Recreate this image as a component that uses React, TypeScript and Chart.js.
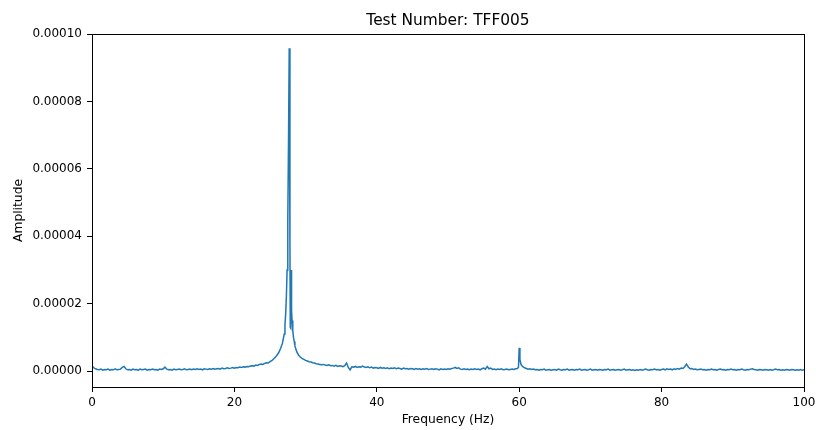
import React, { useEffect, useRef } from "react";
import { Chart, registerables } from "chart.js";

Chart.register(...registerables);

const chartTitle = "Test Number: TFF005";
const xAxisLabel = "Frequency (Hz)";
const yAxisLabel = "Amplitude";
const xTickValues = [0, 20, 40, 60, 80, 100];
const yTickValues = [0, 0.00002, 0.00004, 0.00006, 0.00008, 0.0001];

// Frequency bins (Hz)
const frequencyHz = [
  0, 0.25, 0.5, 0.75, 1, 1.25, 1.5, 1.75,
  2, 2.25, 2.5, 2.75, 3, 3.25, 3.5, 3.75,
  4, 4.25, 4.5, 4.75, 5, 5.25, 5.5, 5.75,
  6, 6.25, 6.5, 6.75, 7, 7.25, 7.5, 7.75,
  8, 8.25, 8.5, 8.75, 9, 9.25, 9.5, 9.75,
  10, 10.25, 10.5, 10.75, 11, 11.25, 11.5, 11.75,
  12, 12.25, 12.5, 12.75, 13, 13.25, 13.5, 13.75,
  14, 14.25, 14.5, 14.75, 15, 15.25, 15.5, 15.75,
  16, 16.25, 16.5, 16.75, 17, 17.25, 17.5, 17.75,
  18, 18.25, 18.5, 18.75, 19, 19.25, 19.5, 19.75,
  20, 20.25, 20.5, 20.75, 21, 21.25, 21.5, 21.75,
  22, 22.25, 22.5, 22.75, 23, 23.25, 23.5, 23.75,
  24, 24.25, 24.5, 24.75,
  25, 25.25, 25.5, 25.75, 26, 26.25, 26.5, 26.75,
  27, 27.1, 27.2, 27.3, 27.4, 27.5, 27.6, 27.7,
  27.8, 27.85, 27.9, 27.95, 28, 28.05, 28.1, 28.2,
  28.3, 28.4, 28.5, 28.75, 29, 29.25, 29.5, 29.75,
  30, 30.25, 30.5, 30.75, 31, 31.25, 31.5, 31.75,
  32,
  32.25, 32.5, 32.75, 33, 33.25, 33.5, 33.75, 34,
  34.25, 34.5, 34.75, 35, 35.25, 35.5, 35.75, 36,
  36.25, 36.5, 36.75, 37, 37.25, 37.5, 37.75, 38,
  38.25, 38.5, 38.75, 39, 39.25, 39.5, 39.75, 40,
  40.25, 40.5, 40.75, 41, 41.25, 41.5, 41.75, 42,
  42.25, 42.5, 42.75, 43, 43.25, 43.5, 43.75, 44,
  44.25, 44.5, 44.75, 45, 45.25, 45.5, 45.75, 46,
  46.25, 46.5, 46.75, 47, 47.25, 47.5, 47.75, 48,
  48.25, 48.5, 48.75, 49, 49.25, 49.5, 49.75, 50,
  50.25, 50.5, 50.75, 51, 51.25, 51.5, 51.75, 52,
  52.25, 52.5, 52.75, 53, 53.25, 53.5, 53.75, 54,
  54.25, 54.5, 54.75, 55, 55.25, 55.5, 55.75, 56,
  56.25, 56.5, 56.75, 57, 57.25, 57.5, 57.75, 58,
  58.25, 58.5, 58.75, 59, 59.25, 59.5, 59.75,
  59.9, 60, 60.1, 60.2, 60.3, 60.5, 60.75, 61,
  61.25, 61.5, 61.75, 62, 62.25, 62.5, 62.75, 63,
  63.25, 63.5, 63.75, 64, 64.25, 64.5, 64.75, 65,
  65.25, 65.5, 65.75, 66, 66.25, 66.5, 66.75, 67,
  67.25, 67.5, 67.75, 68, 68.25, 68.5, 68.75, 69,
  69.25, 69.5, 69.75, 70, 70.25, 70.5, 70.75, 71,
  71.25, 71.5, 71.75, 72, 72.25, 72.5, 72.75, 73,
  73.25, 73.5, 73.75, 74, 74.25, 74.5, 74.75, 75,
  75.25, 75.5, 75.75, 76, 76.25, 76.5, 76.75, 77,
  77.25, 77.5, 77.75, 78, 78.25, 78.5, 78.75, 79,
  79.25, 79.5, 79.75, 80, 80.25, 80.5, 80.75, 81,
  81.25, 81.5, 81.75, 82, 82.25, 82.5, 82.75, 83,
  83.25, 83.5, 83.75, 84, 84.25, 84.5, 84.75, 85,
  85.25, 85.5, 85.75, 86, 86.25, 86.5, 86.75, 87,
  87.25, 87.5, 87.75, 88, 88.25, 88.5, 88.75, 89,
  89.25, 89.5, 89.75, 90, 90.25, 90.5, 90.75, 91,
  91.25, 91.5, 91.75, 92, 92.25, 92.5, 92.75, 93,
  93.25, 93.5, 93.75, 94, 94.25, 94.5, 94.75, 95,
  95.25, 95.5, 95.75, 96, 96.25, 96.5, 96.75, 97,
  97.25, 97.5, 97.75, 98, 98.25, 98.5, 98.75, 99,
  99.25, 99.5, 99.75, 100,
];

// Amplitude in micro-units (x 1e-6)
const amplitudeMicro = [
  1.6, 1.0, 0.7, 0.5, 0.4, 0.6, 0.3, 0.5,
  0.4, 0.6, 0.3, 0.5, 0.4, 0.7, 0.4, 0.5,
  0.6, 1.1, 1.4, 0.7, 0.4, 0.5, 0.3, 0.6,
  0.4, 0.5, 0.3, 0.6, 0.4, 0.5, 0.6, 0.3,
  0.5, 0.4, 0.6, 0.4, 0.5, 0.3, 0.6, 0.5,
  0.7, 1.2, 0.6, 0.4, 0.5, 0.3, 0.6, 0.4,
  0.5, 0.6, 0.4, 0.5, 0.7, 0.4, 0.5, 0.6,
  0.4, 0.6, 0.5, 0.7, 0.5, 0.6, 0.4, 0.7,
  0.6, 0.5, 0.7, 0.6, 0.8, 0.6, 0.7, 0.8,
  0.6, 0.9, 0.7, 0.8, 1.0, 0.8, 0.9, 1.1,
  0.9, 1.1, 1.0, 1.2, 1.1, 1.3, 1.2, 1.4,
  1.3, 1.5, 1.6, 1.5, 1.8, 1.7, 2.0, 2.1,
  2.0, 2.3, 2.5, 2.4,
  2.8, 3.1, 3.6, 4.1, 4.8, 5.6, 6.8, 8.3,
  11, 13.5, 17, 22, 30, 45, 68, 95.8,
  38, 13, 12.8, 30, 23, 18, 15, 12,
  10, 8.8, 7.5, 5.8, 4.8, 4.2, 3.8, 3.5,
  3.2, 3.0, 2.8, 2.7, 2.5, 2.4, 2.2, 2.1,
  2.0,
  1.9, 2.0, 1.8, 1.7, 1.9, 1.6, 1.7, 1.5,
  1.7, 1.4, 1.6, 1.5, 1.3, 1.6, 2.4, 1.1,
  0.4, 1.3, 1.2, 1.4, 1.1, 1.3, 1.2, 1.5,
  1.2, 1.1, 1.3, 1.0, 1.2, 0.9, 1.1, 1.0,
  0.8, 1.1, 0.9, 1.0, 0.8, 1.0, 0.7, 0.9,
  0.8, 1.0, 0.7, 0.9, 0.8, 0.6, 0.9, 0.7,
  0.8, 0.6, 0.8, 0.7, 0.5, 0.8, 0.6, 0.7,
  0.5, 0.7, 0.6, 0.8, 0.5, 0.6, 0.7, 0.5,
  0.7, 0.6, 0.4, 0.7, 0.5, 0.6, 0.5, 0.7,
  0.6, 0.8, 0.9, 1.1, 0.8, 1.0, 0.6, 0.5,
  0.7, 0.5, 0.6, 0.4, 0.6, 0.5, 0.7, 0.5,
  0.6, 0.4, 0.7, 0.9, 0.6, 1.4, 0.7, 0.9,
  0.5, 0.6, 0.4, 0.6, 0.5, 0.7, 0.4, 0.5,
  0.6, 0.4, 0.5, 0.6, 0.5, 0.7, 0.8,
  1.2, 6.9, 3.6, 2.4, 1.8, 1.3, 1.0, 0.8,
  0.6, 0.7, 0.5, 0.6, 0.4, 0.5, 0.3, 0.5,
  0.4, 0.6, 0.3, 0.4, 0.5, 0.3, 0.4, 0.5,
  0.3, 0.6, 0.4, 0.3, 0.5, 0.4, 0.6, 0.3,
  0.4, 0.5, 0.3, 0.5, 0.4, 0.6, 0.3, 0.4,
  0.5, 0.3, 0.4, 0.6, 0.3, 0.4, 0.5, 0.3,
  0.5, 0.4, 0.3, 0.5, 0.4, 0.6, 0.3, 0.4,
  0.5, 0.3, 0.4, 0.5, 0.3, 0.4, 0.6, 0.3,
  0.4, 0.5, 0.3, 0.4, 0.2, 0.4, 0.3, 0.5,
  0.3, 0.4, 0.6, 0.4, 0.3, 0.5, 0.4, 0.6,
  0.4, 0.5, 0.3, 0.5, 0.6, 0.4, 0.7, 0.5,
  0.6, 0.4, 0.7, 0.5, 0.8, 0.6, 0.9, 0.8,
  1.3, 2.1, 1.2, 0.7, 0.8, 0.5, 0.6, 0.4,
  0.5, 0.6, 0.4, 0.5, 0.3, 0.5, 0.4, 0.6,
  0.4, 0.5, 0.3, 0.5, 0.6, 0.4, 0.5, 0.3,
  0.5, 0.4, 0.6, 0.4, 0.5, 0.3, 0.5, 0.4,
  0.6, 0.4, 0.3, 0.5, 0.4, 0.6, 0.7, 0.5,
  0.4, 0.3, 0.5, 0.4, 0.3, 0.5, 0.4, 0.3,
  0.5, 0.3, 0.4, 0.6, 0.4, 0.5, 0.3, 0.4,
  0.3, 0.5, 0.4, 0.3, 0.5, 0.4, 0.3, 0.4,
  0.3, 0.5, 0.3, 0.4,
];

const FONT = "'DejaVu Sans', sans-serif";

export default function App() {
  const canvasRef = useRef<HTMLCanvasElement | null>(null);

  useEffect(() => {
    const canvas = canvasRef.current;
    if (!canvas) return;
    if (frequencyHz.length !== amplitudeMicro.length) {
      console.error("length mismatch", frequencyHz.length, amplitudeMicro.length);
    }
    const points = frequencyHz.map((f, i) => ({ x: f, y: amplitudeMicro[i] * 1e-6 }));

    const framePlugin = {
      id: "frameAndTitle",
      afterDraw(chart: any) {
        const { ctx, chartArea } = chart;
        const { left, top, right, bottom } = chartArea;
        ctx.save();
        ctx.strokeStyle = "#000";
        ctx.lineWidth = 1;
        ctx.strokeRect(Math.round(left) + 0.5, Math.round(top) + 0.5, Math.round(right - left), Math.round(bottom - top));
        ctx.fillStyle = "#000";
        ctx.font = `15.4px ${FONT}`;
        ctx.textAlign = "center";
        ctx.textBaseline = "middle";
        ctx.fillText(chartTitle, (left + right) / 2, 20.5);
        ctx.restore();
      },
    };

    const chart = new Chart(canvas, {
      type: "line",
      data: {
        datasets: [
          {
            data: points,
            borderColor: "#1f77b4",
            borderWidth: 1.5,
            pointRadius: 0,
            tension: 0,
            fill: false,
          },
        ],
      },
      options: {
        responsive: false,
        animation: false,
        devicePixelRatio: 1,
        layout: { padding: { left: 0, right: 12, top: 34, bottom: 0 } },
        plugins: {
          legend: { display: false },
          tooltip: { enabled: false },
          title: { display: false },
        },
        scales: {
          x: {
            type: "linear",
            min: 0,
            max: 100,
            afterBuildTicks: (s: any) => {
              s.ticks = xTickValues.map((v) => ({ value: v }));
            },
            afterFit: (s: any) => {
              s.height = 43;
              s.paddingLeft = 0;
              s.paddingRight = 0;
            },
            ticks: {
              color: "#000",
              font: { family: FONT, size: 12 },
              padding: 4,
              maxRotation: 0,
              callback: (v: any) => String(v),
            },
            grid: {
              drawOnChartArea: false,
              drawTicks: true,
              tickLength: 5,
              color: "#000",
              tickColor: "#000",
            },
            border: { display: false },
            title: {
              display: true,
              text: xAxisLabel,
              color: "#000",
              font: { family: FONT, size: 12.3 },
              padding: { top: 0, bottom: 3 },
            },
          },
          y: {
            type: "linear",
            min: -0.0000047,
            max: 0.0001,
            afterBuildTicks: (s: any) => {
              s.ticks = yTickValues.map((v) => ({ value: v }));
            },
            afterFit: (s: any) => {
              s.width = 92;
              s.paddingTop = 0;
              s.paddingBottom = 0;
            },
            ticks: {
              color: "#000",
              font: { family: FONT, size: 12 },
              padding: 5,
              callback: (v: any) => Number(v).toFixed(5),
            },
            grid: {
              drawOnChartArea: false,
              drawTicks: true,
              tickLength: 5,
              color: "#000",
              tickColor: "#000",
            },
            border: { display: false },
            title: {
              display: true,
              text: yAxisLabel,
              color: "#000",
              font: { family: FONT, size: 12.3 },
              padding: { top: 11, bottom: 0 },
            },
          },
        },
      },
      plugins: [framePlugin],
    });

    return () => chart.destroy();
  }, []);

  return (
    <div style={{ position: "fixed", left: 0, top: 0, width: 816, height: 430, background: "#fff" }}>
      <canvas ref={canvasRef} width={816} height={430} style={{ width: 816, height: 430, display: "block" }} />
    </div>
  );
}
